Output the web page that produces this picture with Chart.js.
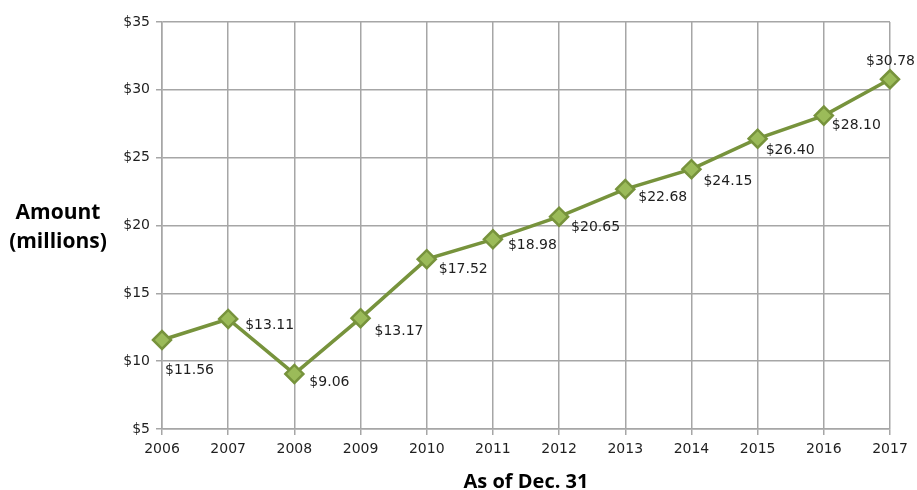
<!DOCTYPE html>
<html>
<head>
<meta charset="utf-8">
<script src="https://cdn.jsdelivr.net/npm/chart.js@4"></script>
<style>
  html, body { margin: 0; padding: 0; background: #fff; }
  #wrap { width: 917px; height: 490px; }
</style>
</head>
<body>
<div id="wrap"><canvas id="myChart"></canvas></div>
<script>
// chart data
const years = ['2006', '2007', '2008', '2009', '2010', '2011', '2012', '2013', '2014', '2015', '2016', '2017'];
const amounts = [11.56, 13.11, 9.06, 13.17, 17.52, 18.98, 20.65, 22.68, 24.15, 26.40, 28.10, 30.78];
const yTicks = [5, 10, 15, 20, 25, 30, 35];

// where each value label sits relative to its point (dx, dy)
const labelOffsets = [
    [3, 30], [17, 6], [15, 8], [14, 13], [12, 10], [15, 6],
    [12, 11], [13, 8], [12, 12], [8, 12], [8, 10], [-24, -18]
];

const gridGray = '#a6a6a6';
const textDark = '#1f1f1f';

// value labels next to the points
const valueLabels = {
    id: 'valueLabels',
    afterDatasetsDraw(chart) {
        const ctx = chart.ctx;
        const meta = chart.getDatasetMeta(0);
        ctx.save();
        ctx.font = '14px "DejaVu Sans"';
        ctx.fillStyle = textDark;
        ctx.textAlign = 'left';
        ctx.textBaseline = 'middle';
        meta.data.forEach((pt, i) => {
            const off = labelOffsets[i];
            ctx.fillText('$' + amounts[i].toFixed(2), pt.x + off[0], pt.y + off[1]);
        });
        ctx.restore();
    }
};

// horizontal axis titles
const axisTitles = {
    id: 'axisTitles',
    afterDraw(chart) {
        const ctx = chart.ctx;
        const area = chart.chartArea;
        ctx.save();
        ctx.fillStyle = '#000';
        ctx.textAlign = 'center';
        ctx.textBaseline = 'middle';
        ctx.font = 'bold 21px "Open Sans"';
        ctx.fillText('Amount', 58, 213);
        ctx.fillText('(millions)', 58, 242);
        ctx.font = 'bold 20px "Open Sans"';
        ctx.fillText('As of Dec. 31', (area.left + area.right) / 2, 482);
        ctx.restore();
    }
};

new Chart(document.getElementById('myChart').getContext('2d'), {
    type: 'line',
    data: {
        labels: years,
        datasets: [{
            label: 'Amount',
            data: amounts,
            borderColor: '#77933c',
            borderWidth: 3.5,
            backgroundColor: '#9bbb59',
            pointStyle: 'rectRot',
            pointRadius: 9,
            pointHoverRadius: 9,
            pointBorderWidth: 2.5,
            pointBorderColor: '#77933c',
            pointBackgroundColor: '#9bbb59',
            tension: 0,
            clip: false
        }]
    },
    options: {
        responsive: true,
        maintainAspectRatio: false,
        animation: false,
        layout: { padding: { top: 22, right: 27, bottom: 0, left: 0 } },
        plugins: {
            legend: { display: false },
            tooltip: { enabled: false },
            title: { display: false }
        },
        scales: {
            x: {
                offset: false,
                grid: { color: gridGray, lineWidth: 1.5, tickLength: 6, offset: false },
                border: { color: gridGray, width: 1.5 },
                ticks: {
                    color: textDark,
                    font: { family: 'DejaVu Sans', size: 14 },
                    padding: 6,
                    maxRotation: 0,
                    autoSkip: false
                },
                afterFit(scale) { scale.height = 61; }
            },
            y: {
                min: 5,
                max: 35,
                afterBuildTicks(scale) { scale.ticks = yTicks.map(v => ({ value: v })); },
                grid: { color: gridGray, lineWidth: 1.5, tickLength: 6 },
                border: { color: gridGray, width: 1.5 },
                ticks: {
                    color: textDark,
                    font: { family: 'DejaVu Sans', size: 14 },
                    padding: 6,
                    callback: v => '$' + v
                },
                afterFit(scale) { scale.width = 162; }
            }
        }
    },
    plugins: [valueLabels, axisTitles]
});
</script>
</body>
</html>
